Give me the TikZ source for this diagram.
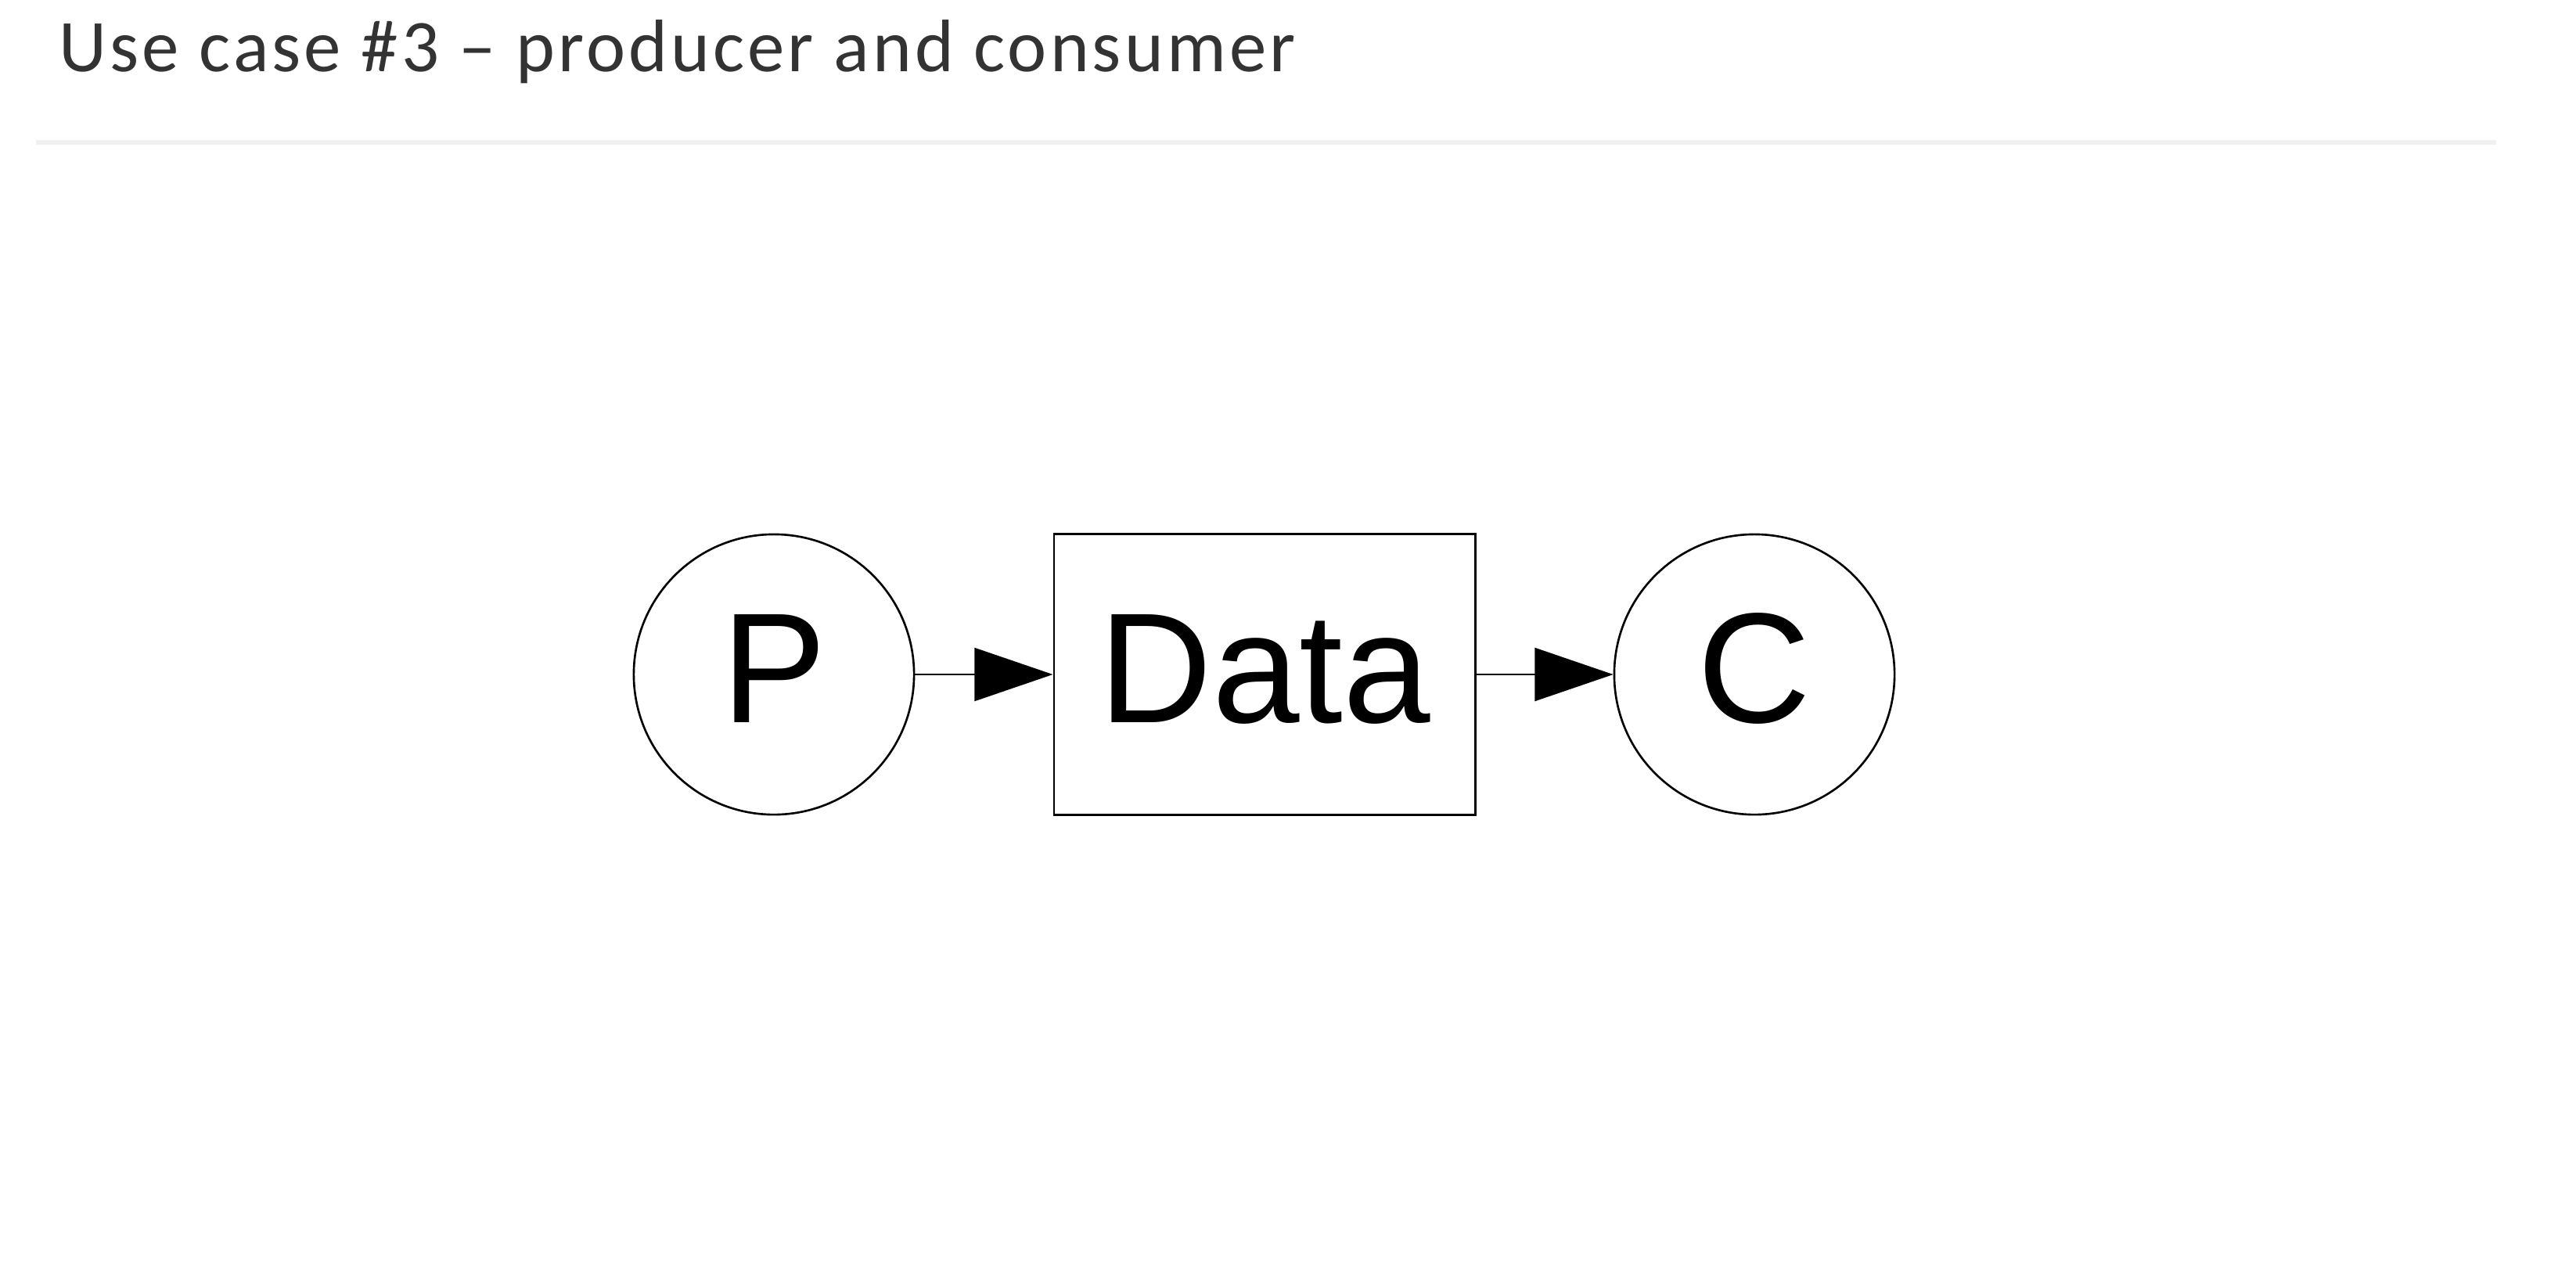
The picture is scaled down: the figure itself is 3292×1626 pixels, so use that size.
\documentclass[tikz,border=0pt]{standalone}
\usepackage{fontspec}
\usepackage{xcolor}
\usepackage{tikz}
\usetikzlibrary{arrows.meta}
\newfontfamily\titlefont[LetterSpace=4.3]{Carlito}
\newfontfamily\nodefont{Liberation Sans}
\definecolor{titlegray}{HTML}{333333}
\definecolor{rulegray}{HTML}{F0F0F0}

\begin{document}
\begin{tikzpicture}[x=0.01cm,y=-0.01cm,
  proc/.style={draw,circle,line width=0.75pt,minimum size=3.58cm,inner sep=0pt,text height=40pt,text depth=5.3pt,font=\nodefont\fontsize{57}{62}\selectfont},
  store/.style={draw,rectangle,line width=0.75pt,minimum width=5.38cm,minimum height=3.59cm,inner sep=0pt,text height=40pt,text depth=5.3pt,font=\nodefont\fontsize{57}{62}\selectfont},
  flow/.style={-{Triangle[length=28.5pt,width=19.3pt]},line width=0.75pt}]
\useasboundingbox[fill=white] (0,0) rectangle (3292,1626);
% heading
\node[anchor=base west,inner sep=0pt,text=titlegray,font=\titlefont\fontsize{27}{32}\selectfont] (title) at (75,91) {Use case \#3 – producer and consumer};
\draw[rulegray,line width=1.7pt] (46,182) -- (3190,182);
% producer, data, consumer
\node[proc] (P) at (989,862) {P};
\node[store] (data) at (1616,862) {Data};
\node[proc] (C) at (2242,862) {C};
\draw[flow] (P) -- (data);
\draw[flow] (data) -- (C);
\end{tikzpicture}
\end{document}
